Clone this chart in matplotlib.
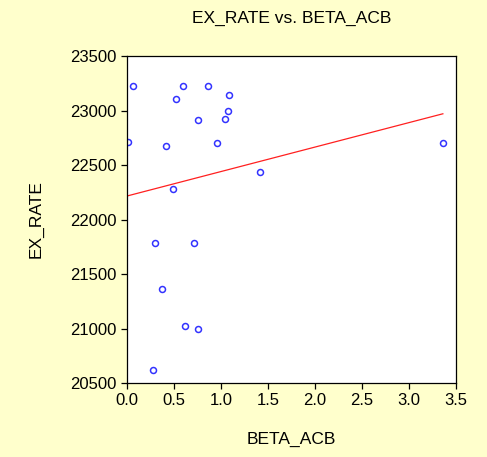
import numpy as np
import matplotlib.pyplot as plt

# values
beta_acb = [0.06, 0.60, 0.86, 1.09, 0.52, 1.07, 0.75, 1.04, 0.01, 0.41,
            0.96, 1.42, 0.49, 3.36, 0.30, 0.71, 0.37, 0.62, 0.75, 0.28]
ex_rate = [23225, 23225, 23225, 23145, 23105, 23000, 22910, 22922, 22714, 22674,
           22699, 22439, 22280, 22699, 21784, 21784, 21362, 21023, 20998, 20619]

x_ticks = [0.0, 0.5, 1.0, 1.5, 2.0, 2.5, 3.0, 3.5]
y_ticks = [20500, 21000, 21500, 22000, 22500, 23000, 23500]

plt.rcParams['font.family'] = ['Liberation Sans', 'DejaVu Sans']

fig = plt.figure(figsize=(4.87, 4.57), dpi=100, facecolor="#FFFFCC")
ax = fig.add_axes([0.2608, 0.1619, 0.6756, 0.7155])
ax.set_facecolor("white")

x = np.array(beta_acb)
y = np.array(ex_rate)
ax.plot(x, y, linestyle="none", marker="o", markersize=4.3,
        markerfacecolor="none", markeredgecolor="#3333FF", markeredgewidth=1.1)

# least squares fit line
slope, intercept = np.polyfit(x, y, 1)
xs = np.array([0.0, x.max()])
ax.plot(xs, intercept + slope * xs, color="#FF2020", linewidth=0.9)

ax.set_xlim(0, 3.5)
ax.set_ylim(20500, 23500)
ax.set_xticks(x_ticks)
ax.set_yticks(y_ticks)
ax.set_xticklabels([f"{t:.1f}" for t in x_ticks])
ax.tick_params(direction="out", length=4, width=0.9, labelsize=12, colors="black")
for s in ax.spines.values():
    s.set_linewidth(0.9)

ax.set_title("EX_RATE vs. BETA_ACB", fontsize=12.5, pad=24)
ax.set_xlabel("BETA_ACB", fontsize=12.5, labelpad=17)
ax.set_ylabel("EX_RATE", fontsize=12.5, labelpad=19)

fig.savefig("out.png", dpi=100, facecolor=fig.get_facecolor())
plt.close(fig)
